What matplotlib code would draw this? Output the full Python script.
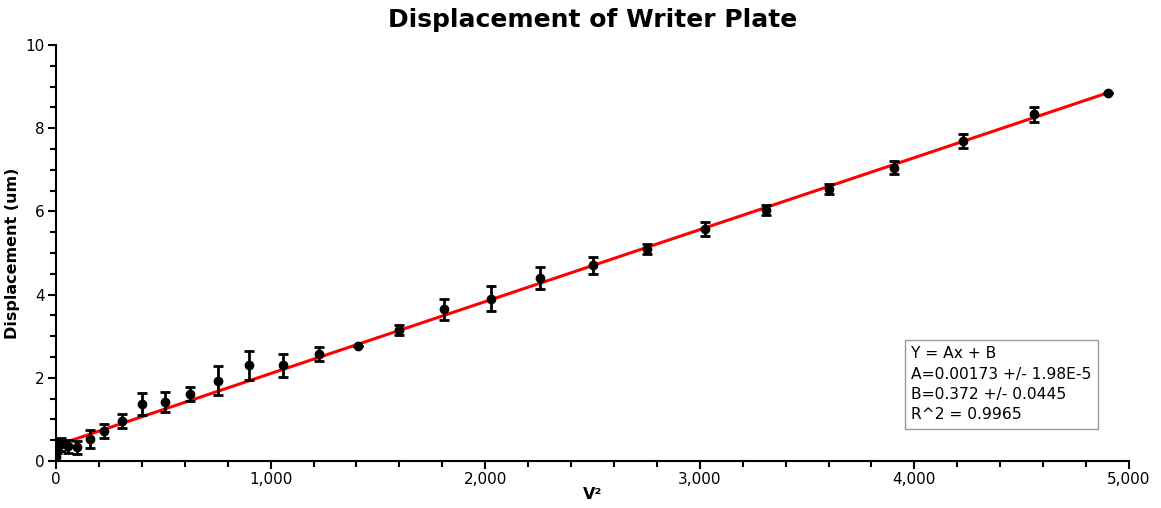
import matplotlib.pyplot as plt
import numpy as np
from matplotlib.ticker import MultipleLocator, FuncFormatter

# V values 0..70 in steps of 2.5, plotted as V^2
volts = [0, 2.5, 5, 7.5, 10, 12.5, 15, 17.5, 20, 22.5, 25, 27.5, 30, 32.5, 35,
         37.5, 40, 42.5, 45, 47.5, 50, 52.5, 55, 57.5, 60, 62.5, 65, 67.5, 70]
displacement = [0.10, 0.35, 0.40, 0.35, 0.33, 0.53, 0.72, 0.97, 1.37, 1.42,
                1.62, 1.93, 2.30, 2.30, 2.57, 2.77, 3.15, 3.65, 3.90, 4.40,
                4.70, 5.10, 5.58, 6.03, 6.55, 7.05, 7.70, 8.33, 8.85]
errors = [0.10, 0.15, 0.15, 0.15, 0.15, 0.22, 0.17, 0.17, 0.27, 0.25,
          0.17, 0.35, 0.35, 0.27, 0.17, 0.0, 0.12, 0.25, 0.30, 0.27,
          0.20, 0.12, 0.17, 0.12, 0.12, 0.15, 0.17, 0.17, 0.0]

slope = 0.00173
intercept = 0.372

x = np.array(volts) ** 2
y = np.array(displacement)

plt.rcParams['font.family'] = ['DejaVu Sans']

fig = plt.figure(figsize=(11.61, 5.08), dpi=100)
ax = fig.add_axes([56 / 1161, 47 / 508, 1073 / 1161, 416 / 508])

xfit = np.array([x.min(), x.max()])
ax.plot(xfit, slope * xfit + intercept, color='red', lw=2.2, zorder=2)
ax.errorbar(x, y, yerr=errors, fmt='o', color='black', ms=6,
            elinewidth=2, capsize=3.5, capthick=2, zorder=3)

ax.set_xlim(0, 5000)
ax.set_ylim(0, 10)
ax.xaxis.set_major_locator(MultipleLocator(1000))
ax.xaxis.set_minor_locator(MultipleLocator(200))
ax.yaxis.set_major_locator(MultipleLocator(2))
ax.yaxis.set_minor_locator(MultipleLocator(0.5))
ax.xaxis.set_major_formatter(FuncFormatter(lambda v, p: f"{int(v):,}"))
ax.spines['top'].set_visible(False)
ax.spines['right'].set_visible(False)
ax.spines['left'].set_linewidth(1.5)
ax.spines['bottom'].set_linewidth(1.5)
ax.tick_params(which='major', length=6, width=1.5, labelsize=11, pad=2)
ax.tick_params(which='minor', length=4, width=1.5)

ax.set_title("Displacement of Writer Plate", fontsize=18, fontweight='bold', pad=13)
ax.set_xlabel("V²", fontsize=11.5, fontweight='bold', labelpad=0)
ax.set_ylabel("Displacement (um)", fontsize=11.5, fontweight='bold', labelpad=4)

fit_text = ("Y = Ax + B\nA=0.00173 +/- 1.98E-5\nB=0.372 +/- 0.0445\nR^2 = 0.9965")
ax.text(0.797, 0.276, fit_text, transform=ax.transAxes, fontsize=11.2,
        va='top', ha='left', linespacing=1.45,
        bbox=dict(boxstyle='square,pad=0.4', fc='white', ec='#999999', lw=1))

fig.savefig("out.png", dpi=100)
